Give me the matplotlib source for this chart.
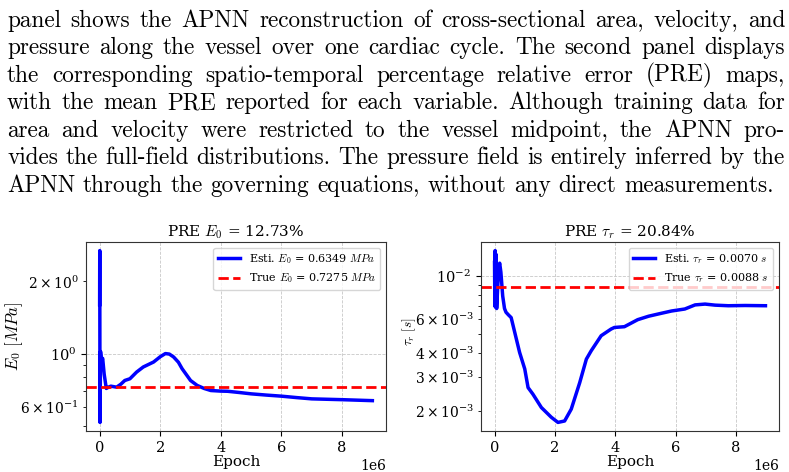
"""Paper excerpt: caption paragraph + E0 / tau_r convergence over training epochs."""
import matplotlib

matplotlib.use("Agg")
import matplotlib.pyplot as plt  # noqa: E402

plt.rcParams["font.family"] = "serif"
plt.rcParams["font.serif"] = ["DejaVu Serif"]
plt.rcParams["mathtext.fontset"] = "cm"

# caption lines (all but the last are justified)
caption_lines = [
    "panel shows the APNN reconstruction of cross-sectional area, velocity, and",
    "pressure along the vessel over one cardiac cycle. The second panel displays",
    "the corresponding spatio-temporal percentage relative error (PRE) maps,",
    "with the mean PRE reported for each variable. Although training data for",
    "area and velocity were restricted to the vessel midpoint, the APNN pro-",
    "vides the full-field distributions. The pressure field is entirely inferred by the",
    "APNN through the governing equations, without any direct measurements.",
]

# E0 history (epochs in units of 1e6, MPa)
epochs_e0 = [0.0, 0.004, 0.012, 0.03, 0.06, 0.10, 0.15, 0.22, 0.30, 0.37, 0.56,
             0.70, 0.83, 1.0, 1.22, 1.44, 1.78, 2.0, 2.17, 2.30, 2.44, 2.60,
             2.72, 3.0, 3.22, 3.45, 3.67, 4.0, 4.22, 4.6, 5.0, 5.5, 6.0, 6.5,
             7.0, 8.0, 9.0]
e0_est = [1.6, 2.69, 0.516, 1.02, 0.93, 0.955, 0.82, 0.715, 0.725, 0.731, 0.724,
          0.745, 0.772, 0.785, 0.837, 0.879, 0.922, 0.97, 1.0, 0.995, 0.968, 0.92,
          0.865, 0.772, 0.736, 0.715, 0.701, 0.697, 0.696, 0.688, 0.679, 0.671,
          0.664, 0.655, 0.647, 0.642, 0.636]
e0_true = 0.7275

# tau_r history (epochs in units of 1e6, seconds)
epochs_tau = [0.0, 0.01, 0.02, 0.035, 0.05, 0.07, 0.10, 0.14, 0.17, 0.21, 0.27,
              0.33, 0.38, 0.46, 0.55, 0.67, 0.83, 1.0, 1.11, 1.27, 1.55, 1.88,
              2.1, 2.32, 2.54, 2.82, 3.04, 3.2, 3.53, 3.86, 3.97, 4.3, 4.74, 5.1,
              5.5, 5.86, 6.3, 6.64, 6.97, 7.3, 7.74, 8.3, 8.97]
tau_est = [0.0118, 0.0070, 0.0136, 0.0069, 0.0130, 0.0068, 0.0085, 0.0112, 0.0117,
           0.0105, 0.0079, 0.0068, 0.0065, 0.0063, 0.0061, 0.0051, 0.00402, 0.0033,
           0.00264, 0.00244, 0.00208, 0.00185, 0.00174, 0.00177, 0.00204, 0.0028,
           0.00371, 0.0041, 0.00491, 0.00532, 0.00542, 0.00547, 0.00595, 0.0062,
           0.00641, 0.0066, 0.00676, 0.0071, 0.00717, 0.00708, 0.00703, 0.00705,
           0.00703]
tau_true = 0.0088

W, H = 789, 472
fig = plt.figure(figsize=(W / 100, H / 100), dpi=100)

# ---- justified caption ----
renderer = fig.canvas.get_renderer()
x0, x1 = 7, 785
fs = 16.75
for i, line in enumerate(caption_lines):
    y = 1 - (26.7 + 27.5 * i) / H
    words = line.split(" ")
    texts = [fig.text(0, y, w, fontsize=fs, family=["cmr10", "DejaVu Serif"],
                      va="baseline") for w in words]
    widths = [t.get_window_extent(renderer).width for t in texts]
    if i == len(caption_lines) - 1:
        gap = renderer.points_to_pixels(fs) * 0.333
    else:
        gap = (x1 - x0 - sum(widths)) / (len(words) - 1)
    x = x0
    for t, w in zip(texts, widths):
        t.set_x(x / W)
        x += w + gap

# ---- plots ----
ax1 = fig.add_axes([86 / W, 1 - 431 / H, 300 / W, 189 / H])
ax2 = fig.add_axes([481 / W, 1 - 431 / H, 298 / W, 189 / H])

ax1.plot([e * 1e6 for e in epochs_e0], e0_est, color="blue", lw=2.5,
         label=r"Esti. $E_0$ = 0.6349 $MPa$")
ax1.axhline(e0_true, color="red", ls="--", lw=2, label=r"True $E_0$ = 0.7275 $MPa$")
ax1.set_yscale("log")
ax1.set_title(r"PRE $E_0$ = 12.73%", fontsize=11, pad=4)
ax1.set_ylabel(r"$E_0$ $[MPa]$", fontsize=12)
ax1.yaxis.set_label_coords(-0.203, 0.5)

ax2.plot([e * 1e6 for e in epochs_tau], tau_est, color="blue", lw=2.5,
         label=r"Esti. $\tau_r$ = 0.0070 $s$")
ax2.axhline(tau_true, color="red", ls="--", lw=2, label=r"True $\tau_r$ = 0.0088 $s$")
ax2.set_yscale("log")
ax2.set_title(r"PRE $\tau_r$ = 20.84%", fontsize=11, pad=4)
ax2.set_ylabel(r"$\tau_r$ $[s]$", fontsize=9.5)
ax2.yaxis.set_label_coords(-0.211, 0.524)

for ax in (ax1, ax2):
    ax.set_xlabel("Epoch", fontsize=11, labelpad=0)
    ax.tick_params(labelsize=10.5)
    ax.grid(True, which="major", ls="--", lw=0.6, color="#c8c8c8")
    ax.legend(loc="upper right", fontsize=8)
    for s in ax.spines.values():
        s.set_color("#333333")

fig.savefig("out.png", dpi=100)
